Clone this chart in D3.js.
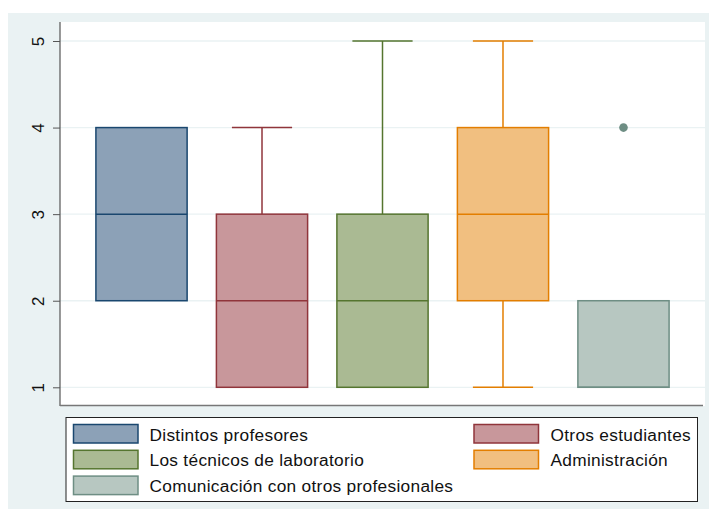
<!DOCTYPE html>
<html>
<head>
<meta charset="utf-8">
<script src="https://cdn.jsdelivr.net/npm/d3@7"></script>
<style>
  html, body { margin: 0; padding: 0; background: #ffffff; }
  svg { display: block; font-family: "Liberation Sans", Arial, sans-serif; }
</style>
</head>
<body>
<svg id="chart" width="709" height="509"></svg>
<script>
// Groups and their five-number summaries (1–5 rating scale)
const categories = [
  "Distintos profesores",
  "Otros estudiantes",
  "Los técnicos de laboratorio",
  "Administración",
  "Comunicación con otros profesionales"
];
const lowerWhisker = [2, 1, 1, 1, 1];
const q1Values     = [2, 1, 1, 2, 1];
const medianValues = [3, 2, 2, 3, 1];
const q3Values     = [4, 3, 3, 4, 2];
const upperWhisker = [4, 4, 5, 5, 2];
const outliers     = [[], [], [], [], [4]];
const yTicks = [1, 2, 3, 4, 5];

const strokeColors = ["#1a476f", "#90353b", "#55752f", "#e37e00", "#6e8e84"];
const fillColors   = ["#8ca1b7", "#c8979b", "#aaba93", "#f1bf80", "#b7c7c1"];

const svg = d3.select("#chart");

// Outer graph background
svg.append("rect").attr("x", 8).attr("y", 13).attr("width", 709).attr("height", 509)
  .attr("fill", "#eaf2f3");

const plot = { left: 60, right: 705, top: 22, bottom: 406 };

svg.append("rect")
  .attr("x", plot.left).attr("y", plot.top)
  .attr("width", plot.right - plot.left).attr("height", plot.bottom - plot.top)
  .attr("fill", "#ffffff");

const y = d3.scaleLinear().domain([1, 5]).range([387.3, 41]);
const x = d3.scaleBand().domain(categories)
  .range([plot.left, plot.right])
  .paddingInner(0.243).paddingOuter(0.298);

// Horizontal grid lines
svg.append("g").selectAll("line").data(yTicks).join("line")
  .attr("x1", plot.left).attr("x2", plot.right)
  .attr("y1", d => y(d)).attr("y2", d => y(d))
  .attr("stroke", "#eaf2f3").attr("stroke-width", 1.3);

// Y axis with rotated labels
const yAxis = svg.append("g")
  .attr("transform", `translate(${plot.left},0)`)
  .call(d3.axisLeft(y).tickValues(yTicks).tickSize(7).tickPadding(9).tickFormat(d3.format("d")));
yAxis.select(".domain").remove();
yAxis.selectAll(".tick line").attr("stroke", "#555555").attr("stroke-width", 1);
yAxis.selectAll(".tick text")
  .attr("font-size", 17).attr("fill", "#111")
  .attr("font-family", "'Liberation Sans', Arial, sans-serif")
  .attr("text-anchor", "middle")
  .attr("dy", "0")
  .attr("transform", "rotate(-90)")
  .attr("x", 0)
  .attr("y", -16);

svg.append("line")
  .attr("x1", plot.left).attr("x2", plot.left)
  .attr("y1", plot.top).attr("y2", plot.bottom)
  .attr("stroke", "#555555").attr("stroke-width", 1.2);
svg.append("line")
  .attr("x1", plot.left).attr("x2", plot.right - 2)
  .attr("y1", plot.bottom - 0.5).attr("y2", plot.bottom - 0.5)
  .attr("stroke", "#777777").attr("stroke-width", 1.5);

// Boxes
const boxes = svg.append("g");
categories.forEach((c, i) => {
  const g = boxes.append("g");
  const x0 = x(c), bw = x.bandwidth(), cx = x0 + bw / 2;
  const capW = bw * 0.66;
  const sw = 1.5;
  // upper whisker
  if (upperWhisker[i] > q3Values[i]) {
    g.append("line").attr("x1", cx).attr("x2", cx)
      .attr("y1", y(q3Values[i])).attr("y2", y(upperWhisker[i]))
      .attr("stroke", strokeColors[i]).attr("stroke-width", sw);
    g.append("line").attr("x1", cx - capW / 2).attr("x2", cx + capW / 2)
      .attr("y1", y(upperWhisker[i])).attr("y2", y(upperWhisker[i]))
      .attr("stroke", strokeColors[i]).attr("stroke-width", sw);
  }
  // lower whisker
  if (lowerWhisker[i] < q1Values[i]) {
    g.append("line").attr("x1", cx).attr("x2", cx)
      .attr("y1", y(q1Values[i])).attr("y2", y(lowerWhisker[i]))
      .attr("stroke", strokeColors[i]).attr("stroke-width", sw);
    g.append("line").attr("x1", cx - capW / 2).attr("x2", cx + capW / 2)
      .attr("y1", y(lowerWhisker[i])).attr("y2", y(lowerWhisker[i]))
      .attr("stroke", strokeColors[i]).attr("stroke-width", sw);
  }
  g.append("rect")
    .attr("x", x0).attr("width", bw)
    .attr("y", y(q3Values[i])).attr("height", y(q1Values[i]) - y(q3Values[i]))
    .attr("fill", fillColors[i]).attr("stroke", strokeColors[i]).attr("stroke-width", sw);
  g.append("line").attr("x1", x0).attr("x2", x0 + bw)
    .attr("y1", y(medianValues[i])).attr("y2", y(medianValues[i]))
    .attr("stroke", strokeColors[i]).attr("stroke-width", sw);
  outliers[i].forEach(v => {
    g.append("circle").attr("cx", cx).attr("cy", y(v)).attr("r", 4.3)
      .attr("fill", strokeColors[i]);
  });
});

// Legend
const legend = svg.append("g");
legend.append("rect").attr("x", 66).attr("y", 417.5).attr("width", 631.5).attr("height", 84)
  .attr("fill", "#ffffff").attr("stroke", "#222").attr("stroke-width", 1);

const legendPos = [
  { kx: 73.5, ty: 424.5, tx: 149.5 },
  { kx: 474, ty: 424.5, tx: 550.5 },
  { kx: 73.5, ty: 450.3, tx: 149.5 },
  { kx: 474, ty: 450.3, tx: 550.5 },
  { kx: 73.5, ty: 476.1, tx: 149.5 }
];
categories.forEach((c, i) => {
  const p = legendPos[i];
  legend.append("rect").attr("x", p.kx).attr("y", p.ty)
    .attr("width", 64.5).attr("height", 18.5)
    .attr("fill", fillColors[i]).attr("stroke", strokeColors[i]).attr("stroke-width", 1.5);
  legend.append("text").attr("x", p.tx).attr("y", p.ty + 16)
    .attr("font-size", 17.3).attr("letter-spacing", 0.3).attr("fill", "#111").text(c);
});
</script>
</body>
</html>
